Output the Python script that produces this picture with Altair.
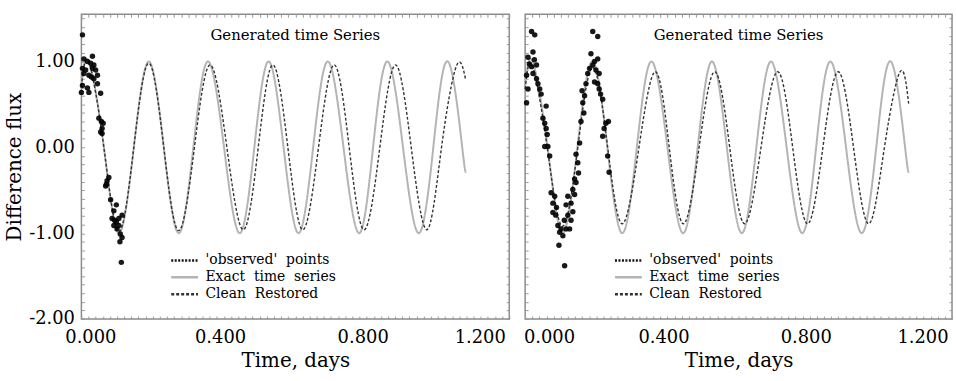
import altair as alt
import pandas as pd

FONT = "DejaVu Serif"

OBS = "'observed'\u00a0 points"
EXACT = "Exact\u00a0 time\u00a0 series"
CLEAN = "Clean\u00a0 Restored"
SERIES = [OBS, EXACT, CLEAN]

# exact (generated) time series, same in both panels
exact_t = [0.000, 0.021, 0.063, 0.105, 0.147, 0.189, 0.231, 0.273, 0.314, 0.355, 0.400, 0.444, 0.485, 0.525,
           0.567, 0.609, 0.650, 0.691, 0.735, 0.779, 0.818, 0.858, 0.902, 0.946, 0.987, 1.028, 1.068, 1.078]
exact_v = [0.71, 1.00, 0.00, -1.00, 0.00, 1.00, 0.00, -1.00, 0.00, 1.00, 0.00, -1.00, 0.00, 1.00,
           0.00, -1.00, 0.00, 1.00, 0.00, -1.00, 0.00, 1.00, 0.00, -1.00, 0.00, 1.00, 0.00, -0.28]

# CLEAN restored, left panel
lclean_t = [0.000, 0.021, 0.063, 0.105, 0.147, 0.189, 0.231, 0.273, 0.317, 0.361, 0.408, 0.454, 0.496, 0.537,
            0.579, 0.621, 0.665, 0.709, 0.751, 0.793, 0.837, 0.881, 0.925, 0.969, 1.010, 1.052, 1.078]
lclean_v = [0.71, 0.99, 0.00, -0.98, 0.00, 0.98, 0.00, -0.97, 0.00, 0.96, 0.00, -0.96, 0.00, 0.96,
            0.00, -0.96, 0.00, 0.96, 0.00, -0.96, 0.00, 0.96, 0.00, -0.96, 0.00, 0.95, 0.78]

# CLEAN restored, right panel
rclean_t = [0.000, 0.020, 0.062, 0.105, 0.148, 0.190, 0.232, 0.273, 0.320, 0.366, 0.405, 0.445, 0.489, 0.533,
            0.575, 0.617, 0.663, 0.710, 0.752, 0.794, 0.837, 0.880, 0.923, 0.966, 1.010, 1.054, 1.078]
rclean_v = [0.68, 0.95, 0.00, -0.92, 0.00, 0.93, 0.00, -0.89, 0.00, 0.88, 0.00, -0.89, 0.00, 0.88,
            0.00, -0.89, 0.00, 0.88, 0.00, -0.89, 0.00, 0.88, 0.00, -0.89, 0.00, 0.88, 0.51]

# 'observed' points, left panel
lobs_t = [0.003, 0.031, 0.007, 0.017, 0.026, 0.035, 0.003, 0.012, 0.031, 0.040, 0.007, 0.021, 0.045, 0.028,
          0.035, 0.045, 0.003, 0.017, 0.000, 0.021, 0.054, 0.049, 0.056, 0.061, 0.058, 0.058, 0.054, 0.077,
          0.072, 0.070, 0.068, 0.082, 0.098, 0.091, 0.086, 0.093, 0.098, 0.105, 0.114, 0.091, 0.105, 0.100,
          0.109, 0.114, 0.108, 0.112]
lobs_v = [1.31, 1.06, 1.03, 1.00, 0.98, 0.96, 0.92, 0.90, 0.92, 0.90, 0.86, 0.84, 0.84, 0.82,
          0.80, 0.74, 0.72, 0.69, 0.64, 0.64, 0.63, 0.34, 0.30, 0.28, 0.22, 0.16, 0.18, -0.35,
          -0.39, -0.43, -0.45, -0.61, -0.67, -0.74, -0.83, -0.85, -0.87, -0.83, -0.79, -0.91, -0.91, -0.95,
          -1.01, -1.05, -1.10, -1.34]

# 'observed' points, right panel
robs_t = [0.018, 0.027, 0.022, 0.008, 0.032, 0.018, 0.004, 0.022, 0.032, 0.036, 0.041, 0.008, 0.004, 0.059,
          0.050, 0.055, 0.059, 0.055, 0.064, 0.069, 0.073, 0.083, 0.078, 0.078, 0.086, 0.092, 0.097, 0.101,
          0.095, 0.106, 0.111, 0.115, 0.125, 0.129, 0.120, 0.134, 0.115, 0.129, 0.139, 0.120, 0.134, 0.143,
          0.139, 0.148, 0.143, 0.153, 0.157, 0.162, 0.160, 0.167, 0.171, 0.176, 0.181, 0.185, 0.190, 0.204,
          0.195, 0.204, 0.190, 0.199, 0.208, 0.195, 0.204, 0.208, 0.218, 0.227, 0.234, 0.222, 0.218, 0.232,
          0.236, 0.045, 0.062, 0.088, 0.110, 0.150, 0.165, 0.212, 0.026, 0.012]
robs_v = [1.35, 1.31, 1.11, 1.05, 0.96, 0.94, 0.84, 0.86, 0.80, 0.74, 0.68, 0.68, 0.52, 0.48,
          0.34, 0.28, 0.22, 0.01, 0.01, -0.10, -0.53, -0.57, -0.65, -0.76, -0.79, -0.91, -0.99, -0.95,
          -1.14, -1.03, -1.38, -0.95, -0.95, -0.85, -0.79, -0.75, -0.67, -0.65, -0.55, -0.57, -0.49, -0.41,
          -0.37, -0.18, -0.08, 0.05, 0.30, 0.52, 0.66, 0.60, 0.74, 0.86, 0.92, 1.09, 1.35, 1.29,
          1.00, 1.03, 0.96, 0.90, 0.86, 0.76, 0.74, 0.68, 0.56, 0.28, 0.30, 0.22, 0.13, -0.10,
          -0.29, 0.62, 0.15, -0.70, -0.85, -0.30, 0.40, 0.62, 1.02, 0.97]

x_ticks = [0.4, 0.8, 1.2]
x_first = [0.0]
y_ticks = [-2.0, -1.0, 0.0, 1.0]
x_minor = [round(i * 0.02, 2) for i in range(61)]
y_minor = [round(-2.0 + i * 0.1, 1) for i in range(36)]

W_LEFT, W_RIGHT, H = 431, 430, 307

xscale = alt.Scale(domain=[0, 1.2], nice=False, zero=False)
yscale = alt.Scale(domain=[-2, 1.55], nice=False, zero=False)
color_scale = alt.Scale(domain=SERIES, range=["#111111", "#b4b4b4", "#333333"])
dash_scale = alt.Scale(domain=SERIES, range=[[2, 1.5], [1, 0], [3, 2]])

legend = alt.Legend(title=None, orient="none", legendX=89, legendY=241,
                    symbolType="M-3,0L3,0", symbolSize=81, symbolStrokeWidth=2.5,
                    symbolOffset=8, labelOffset=14, rowPadding=3, padding=0,
                    labelFont=FONT, labelFontSize=14, labelColor="black")

LBL = dict(labelFont=FONT, labelFontSize=18, labelColor="black",
           titleFont=FONT, titleFontSize=20, titleFontWeight="normal", titleColor="black")


def tick_axis(orient, values):
    return alt.Axis(orient=orient, values=values, labels=False, domain=False, grid=False,
                    ticks=True, tickSize=3, offset=-3, tickColor="#9a9a9a", tickWidth=1, title=None)


def panel(clean_t, clean_v, obs_t, obs_v, width, show_y, first_off):
    exact_df = pd.DataFrame({"t": exact_t, "v": exact_v, "series": EXACT})
    clean_df = pd.DataFrame({"t": clean_t, "v": clean_v, "series": CLEAN})
    obs_df = pd.DataFrame({"t": obs_t, "v": obs_v})

    main_x = alt.Axis(orient="bottom", values=x_ticks, format=".3f", labelFlush=True, labelOffset=-4,
                      ticks=False, domain=False, grid=False, labelPadding=10, titlePadding=4,
                      title="Time, days", **LBL)
    first_x = alt.Axis(orient="bottom", values=x_first, format=".3f", labelFlush=False,
                       labelOffset=first_off, ticks=False, domain=False, grid=False,
                       labelPadding=10, title=None, **LBL)
    if show_y:
        main_y = alt.Axis(orient="left", values=y_ticks,
                          labelExpr="replace(format(datum.value, '.2f'), '\u2212', '-')",
                          ticks=False, domain=False, grid=False, labelPadding=7, titlePadding=4,
                          title="Difference flux", **LBL)
        y_enc = alt.Y("v:Q", scale=yscale, axis=main_y)
    else:
        y_enc = alt.Y("v:Q", scale=yscale, axis=None)

    exact = alt.Chart(exact_df).mark_line(strokeWidth=2, interpolate="natural").encode(
        x=alt.X("t:Q", scale=xscale, axis=main_x),
        y=y_enc,
        color=alt.Color("series:N", scale=color_scale, legend=legend),
        strokeDash=alt.StrokeDash("series:N", scale=dash_scale, legend=legend),
    )
    clean = alt.Chart(clean_df).mark_line(strokeWidth=1.4, interpolate="natural").encode(
        x=alt.X("t:Q", scale=xscale, axis=tick_axis("bottom", x_minor)),
        y=alt.Y("v:Q", scale=yscale, axis=tick_axis("left", y_minor)),
        color=alt.Color("series:N", scale=color_scale, legend=legend),
        strokeDash=alt.StrokeDash("series:N", scale=dash_scale, legend=legend),
    )
    pts = alt.Chart(obs_df).mark_circle(size=30, color="black", opacity=0.9).encode(
        x=alt.X("t:Q", scale=xscale, axis=tick_axis("top", x_minor)),
        y=alt.Y("v:Q", scale=yscale, axis=tick_axis("right", y_minor)),
    )
    # carrier layer for the first x label only (invisible marks)
    first = alt.Chart(obs_df).mark_point(opacity=0).encode(
        x=alt.X("t:Q", scale=xscale, axis=first_x),
        y=alt.Y("v:Q", scale=yscale, axis=None),
    )
    return alt.layer(exact, clean, pts, first).resolve_axis(x="independent", y="independent").properties(
        width=width, height=H,
        title=alt.Title("Generated time Series", frame="group", anchor="middle", offset=-29,
                        font=FONT, fontSize=15, fontWeight="normal", color="black"),
    )


left = panel(lclean_t, lclean_v, lobs_t, lobs_v, W_LEFT, True, 9)
right = panel(rclean_t, rclean_v, robs_t, robs_v, W_RIGHT, False, 24)

chart = alt.hconcat(left, right, spacing=9).resolve_scale(
    color="independent", strokeDash="independent"
).resolve_legend(
    color="independent", strokeDash="independent"
).properties(
    padding={"left": 4, "top": 11, "right": 2, "bottom": 0},
    background="white",
).configure_view(
    stroke="#8c8c8c", strokeWidth=1.5
)

chart.save("out.html", embed_options={"renderer": "svg", "actions": False})
